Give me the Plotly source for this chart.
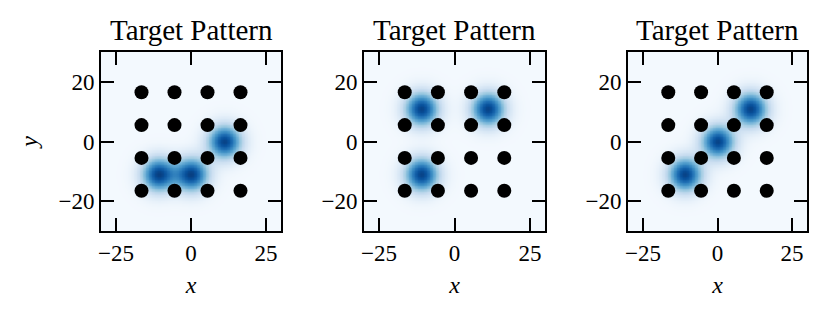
import numpy as np
import plotly.graph_objects as go

# ---- data ----
panel_titles = ["Target Pattern", "Target Pattern", "Target Pattern"]
dot_x = [-16.5, -5.5, 5.5, 16.5]
dot_y = [-16.5, -5.5, 5.5, 16.5]
blobs_1_x = [-11, 0, 11]
blobs_1_y = [-11, -11, 0]
blobs_2_x = [-11, 11, -11]
blobs_2_y = [11, 11, -11]
blobs_3_x = [-11, 0, 11]
blobs_3_y = [-11, 0, 11]
blob_sigma = 3.9
x_ticks = [-25, 0, 25]
y_ticks = [-20, 0, 20]
axis_range = [-30, 30]

blobs = [(blobs_1_x, blobs_1_y), (blobs_2_x, blobs_2_y), (blobs_3_x, blobs_3_y)]

grid = np.linspace(axis_range[0], axis_range[1], 121)
GX, GY = np.meshgrid(grid, grid)

FONT = "Liberation Serif"
W, H = 822, 304  # page body has an 8px margin
OFF = 8
fig = go.Figure()

px_x = [(101, 281), (364, 545), (628, 807)]
x_domains = [[(a - OFF) / W, (b - OFF) / W] for a, b in px_x]
y_domain = [1 - (231 - OFF) / H, 1 - (52 - OFF) / H]

DX, DY = np.meshgrid(dot_x, dot_y)

for i, (bx, by) in enumerate(blobs):
    sfx = "" if i == 0 else str(i + 1)
    z = np.zeros_like(GX)
    for cx, cy in zip(bx, by):
        z += np.exp(-((GX - cx) ** 2 + (GY - cy) ** 2) / (2 * blob_sigma ** 2))
    fig.add_trace(go.Heatmap(
        x=grid, y=grid, z=z, colorscale="Blues", zmin=-0.02, zmax=1.08,
        showscale=False, zsmooth="best", hoverinfo="skip",
        xaxis="x" + sfx, yaxis="y" + sfx,
    ))
    fig.add_trace(go.Scatter(
        x=DX.ravel(), y=DY.ravel(), mode="markers",
        marker=dict(color="black", size=14, line=dict(width=0)),
        showlegend=False, xaxis="x" + sfx, yaxis="y" + sfx,
    ))
    axis_common = dict(
        range=axis_range, showline=True, mirror="ticks", linecolor="black",
        linewidth=2, ticks="inside", ticklen=13, tickwidth=1.5, tickcolor="black",
        showgrid=False, zeroline=False, automargin=False,
        tickfont=dict(family=FONT, size=23, color="black"),
    )
    fig.update_layout(**{
        "xaxis" + sfx: dict(
            axis_common, domain=x_domains[i], anchor="y" + sfx,
            tickvals=x_ticks,
            title=dict(text="<i>x</i>", font=dict(family=FONT, size=24, color="black"), standoff=12),
        ),
        "yaxis" + sfx: dict(
            axis_common, domain=y_domain, anchor="x" + sfx,
            tickvals=y_ticks,
            title=dict(text="<i>y</i>" if i == 0 else "", font=dict(family=FONT, size=24, color="black"), standoff=14),
        ),
    })
    fig.add_annotation(
        text=panel_titles[i], xref="paper", yref="paper",
        x=(x_domains[i][0] + x_domains[i][1]) / 2, y=1 - (30 - OFF) / H,
        xanchor="center", yanchor="middle", showarrow=False,
        font=dict(family=FONT, size=29, color="black"),
    )

fig.update_layout(
    width=W, height=H, margin=dict(l=0, r=0, t=0, b=0),
    paper_bgcolor="white", plot_bgcolor="white", showlegend=False,
)

fig.write_html("out.html")
